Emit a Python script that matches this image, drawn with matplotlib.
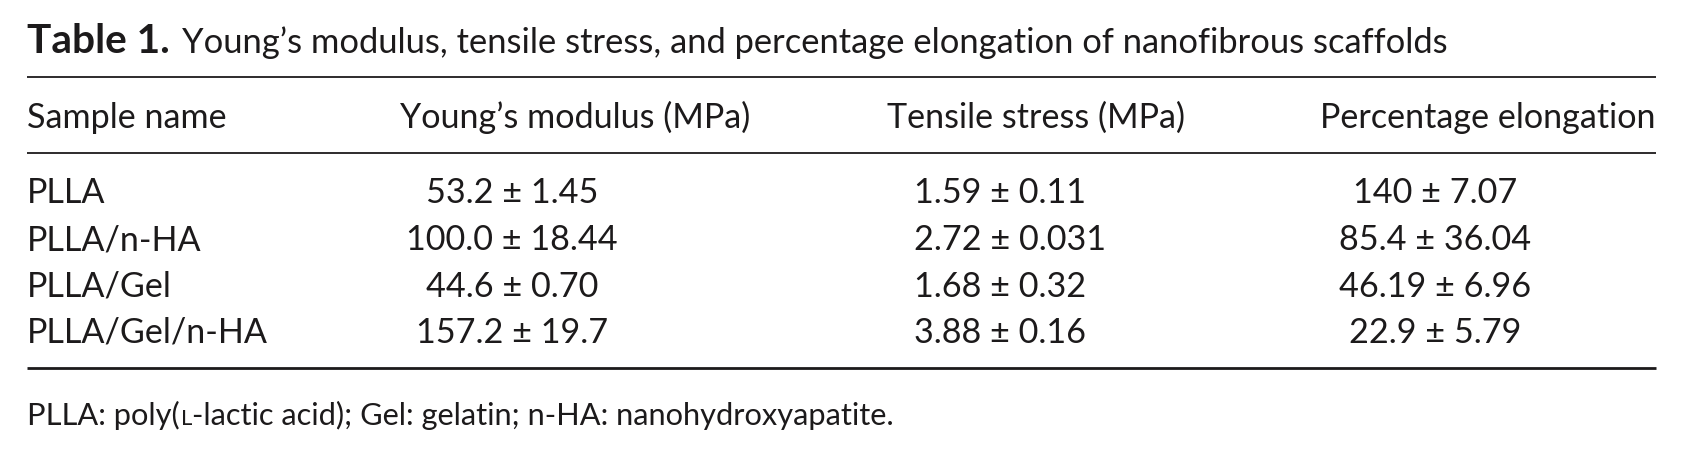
import matplotlib
matplotlib.use("Agg")
import matplotlib.pyplot as plt

# ---- data ----
title_label = "Table 1."
title_text = "Young\u2019s modulus, tensile stress, and percentage elongation of nanofibrous scaffolds"
headers = ["Sample name", "Young\u2019s modulus (MPa)", "Tensile stress (MPa)", "Percentage elongation"]
samples = ["PLLA", "PLLA/n-HA", "PLLA/Gel", "PLLA/Gel/n-HA"]
youngs_mean = ["53.2", "100.0", "44.6", "157.2"]
youngs_sd = ["1.45", "18.44", "0.70", "19.7"]
tensile_mean = ["1.59", "2.72", "1.68", "3.88"]
tensile_sd = ["0.11", "0.031", "0.32", "0.16"]
elong_mean = ["140", "85.4", "46.19", "22.9"]
elong_sd = ["7.07", "36.04", "6.96", "5.79"]
foot_parts = ["PLLA: poly(", "L", "-lactic acid); Gel: gelatin; n-HA: nanohydroxyapatite."]

# ---- layout ----
W, H = 1682, 459
fig = plt.figure(figsize=(W / 100, H / 100), dpi=100)
ax = fig.add_axes([0, 0, 1, 1])
ax.set_xlim(0, W)
ax.set_ylim(H, 0)
ax.axis("off")
FONT = "Lato"
INK = "#1c1a1b"
fig.canvas.draw()
R = fig.canvas.get_renderer()


def width(t):
    return t.get_window_extent(R).width


def fit(t, target):
    t.set_fontsize(t.get_fontsize() * target / width(t))


# rules
x0, x1 = 27, 1656
ax.plot([x0, x1], [77, 77], color=INK, lw=1.3, solid_capstyle="butt")
ax.plot([x0, x1], [153, 153], color=INK, lw=1.3, solid_capstyle="butt")
ax.plot([x0, x1], [368, 368], color=INK, lw=2.0, solid_capstyle="butt")

# title
tb = ax.text(27, 53, title_label, fontsize=20, fontweight="bold", family=FONT,
             color=INK, va="baseline", ha="left")
fit(tb, 143)
tt = ax.text(182, 53, title_text, fontsize=20, family=FONT, color=INK,
             va="baseline", ha="left")
fit(tt, 1267)

# headers
hdr_pos = [(27, "left"), (575, "center"), (1036, "center"), (1656, "right")]
hdr_w = [196, 352, 306, 334]
hs = []
ratios = []
for (x, ha), txt, w in zip(hdr_pos, headers, hdr_w):
    t = ax.text(x, 128, txt, fontsize=20, family=FONT, color=INK, va="baseline", ha=ha)
    ratios.append(w / width(t))
    hs.append(t)
fs = 20 * sum(ratios) / len(ratios)
for t in hs:
    t.set_fontsize(fs)

# body
row_y = [203, 250, 297, 343]
for i, y in enumerate(row_y):
    ax.text(27, y, samples[i], fontsize=fs, family=FONT, color=INK, va="baseline", ha="left")
    ax.text(512, y, f"{youngs_mean[i]} \u00b1 {youngs_sd[i]}", fontsize=fs, family=FONT,
            color=INK, va="baseline", ha="center")
    ax.text(914, y, f"{tensile_mean[i]} \u00b1 {tensile_sd[i]}", fontsize=fs, family=FONT,
            color=INK, va="baseline", ha="left")
    ax.text(1435, y, f"{elong_mean[i]} \u00b1 {elong_sd[i]}", fontsize=fs, family=FONT,
            color=INK, va="baseline", ha="center")

# footnote
ffs = fs * 0.9
x = 27
for k, part in enumerate(foot_parts):
    size = ffs * 0.72 if k == 1 else ffs
    t = ax.text(x, 425, part, fontsize=size, family=FONT, color=INK, va="baseline", ha="left")
    x += width(t) + (1 if k == 0 else 0)

fig.savefig("out.png", dpi=100)
